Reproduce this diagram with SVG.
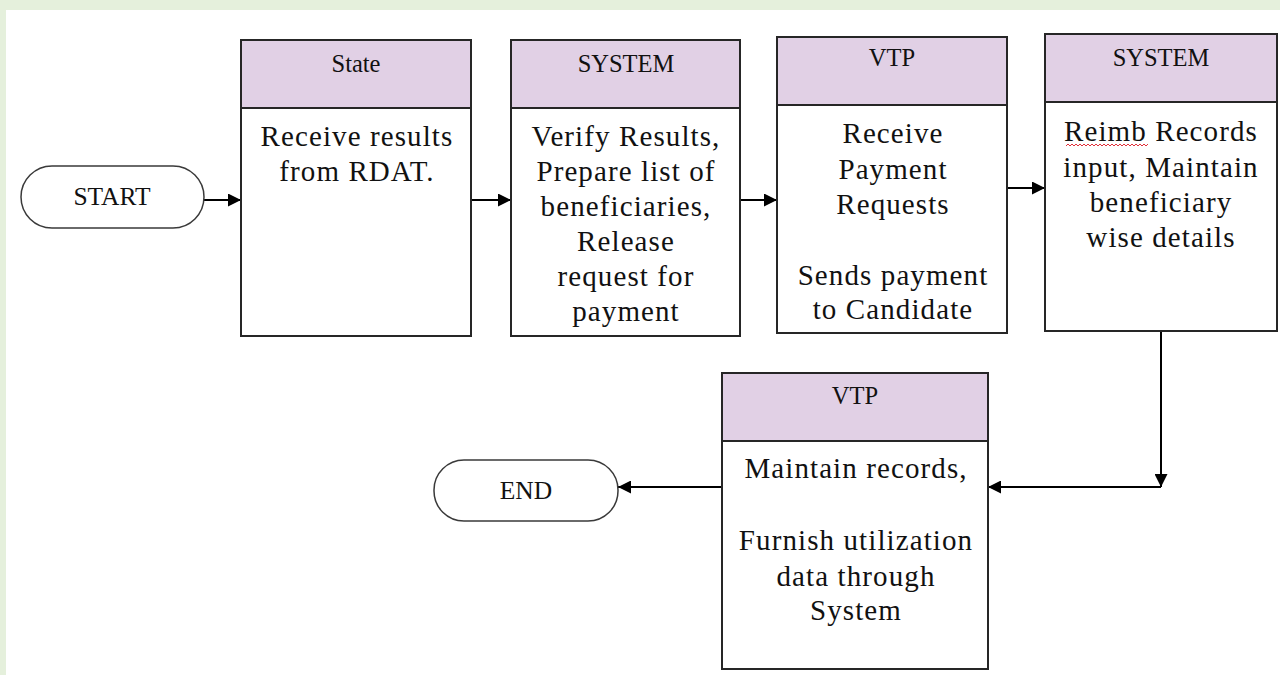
<svg xmlns="http://www.w3.org/2000/svg" width="1280" height="675" viewBox="0 0 1280 675">
<style>
.box{fill:#ffffff;stroke:#262626;stroke-width:2}
.hdr{fill:#e1d0e5;stroke:#262626;stroke-width:2}
.term{fill:#ffffff;stroke:#3a3a3a;stroke-width:1.5}
.ht{font-family:"Liberation Serif","Times New Roman",serif;font-size:24.5px;fill:#111;text-anchor:middle}
.bt{font-family:"Liberation Serif","Times New Roman",serif;font-size:29px;letter-spacing:1.1px;fill:#111;text-anchor:middle}
.tt{font-family:"Liberation Serif","Times New Roman",serif;font-size:25.5px;fill:#111;text-anchor:middle}
.conn{fill:none;stroke:#000;stroke-width:2}
</style>
<defs>
<marker id="arr" viewBox="0 0 12 12" refX="12" refY="6" markerWidth="13" markerHeight="13" markerUnits="userSpaceOnUse" orient="auto">
<path d="M0,0 L12,6 L0,12 Z" fill="#000"/>
</marker>
</defs>
<rect x="0" y="0" width="1280" height="675" fill="#e5f0dc"/>
<rect x="6" y="10" width="1274" height="665" fill="#ffffff"/>

<g id="connectors">
<path class="conn" d="M204,200 H241" marker-end="url(#arr)"/>
<path class="conn" d="M471,200 H511" marker-end="url(#arr)"/>
<path class="conn" d="M740,200 H777" marker-end="url(#arr)"/>
<path class="conn" d="M1007,188 H1045" marker-end="url(#arr)"/>
<path class="conn" d="M1161,331 V487" marker-end="url(#arr)"/>
<path class="conn" d="M1161,487 H988" marker-end="url(#arr)"/>
<path class="conn" d="M722,487 H618" marker-end="url(#arr)"/>
</g>

<g id="start">
<rect class="term" x="21" y="166" width="183" height="62" rx="31" ry="31"/>
<text class="tt" x="112" y="205">START</text>
</g>

<g id="end">
<rect class="term" x="434" y="460" width="184" height="61" rx="30" ry="30"/>
<text class="tt" x="526" y="499">END</text>
</g>

<g id="state">
<rect class="box" x="241" y="40" width="230" height="296"/>
<rect class="hdr" x="241" y="40" width="230" height="68"/>
<text class="ht" x="356" y="72">State</text>
<text class="bt" x="357" y="146">Receive results</text>
<text class="bt" x="357" y="181">from RDAT.</text>
</g>

<g id="system1">
<rect class="box" x="511" y="40" width="229" height="296"/>
<rect class="hdr" x="511" y="40" width="229" height="68"/>
<text class="ht" x="626" y="72">SYSTEM</text>
<text class="bt" x="626" y="146">Verify Results,</text>
<text class="bt" x="626" y="181">Prepare list of</text>
<text class="bt" x="626" y="216">beneficiaries,</text>
<text class="bt" x="626" y="251">Release</text>
<text class="bt" x="626" y="286">request for</text>
<text class="bt" x="626" y="321">payment</text>
</g>

<g id="vtp1">
<rect class="box" x="777" y="37" width="230" height="296"/>
<rect class="hdr" x="777" y="37" width="230" height="68"/>
<text class="ht" x="892" y="66">VTP</text>
<text class="bt" x="893" y="143">Receive</text>
<text class="bt" x="893" y="179">Payment</text>
<text class="bt" x="893" y="214">Requests</text>
<text class="bt" x="893" y="285">Sends payment</text>
<text class="bt" x="893" y="319">to Candidate</text>
</g>

<g id="system2">
<rect class="box" x="1045" y="34" width="232" height="297"/>
<rect class="hdr" x="1045" y="34" width="232" height="68"/>
<text class="ht" x="1161" y="66">SYSTEM</text>
<text class="bt" x="1161" y="141">Reimb Records</text>
<text class="bt" x="1161" y="177">input, Maintain</text>
<text class="bt" x="1161" y="212">beneficiary</text>
<text class="bt" x="1161" y="247">wise details</text>
<path d="M1066,146 l2,-2 l2,2 l2,-2 l2,2 l2,-2 l2,2 l2,-2 l2,2 l2,-2 l2,2 l2,-2 l2,2 l2,-2 l2,2 l2,-2 l2,2 l2,-2 l2,2 l2,-2 l2,2 l2,-2 l2,2 l2,-2 l2,2 l2,-2 l2,2 l2,-2 l2,2 l2,-2 l2,2 l2,-2 l2,2 l2,-2 l2,2 l2,-2 l2,2 l2,-2 l2,2 l2,-2 l2,2 l2,-2" fill="none" stroke="#e0303a" stroke-width="1"/>
</g>

<g id="vtp2">
<rect class="box" x="722" y="373" width="266" height="296"/>
<rect class="hdr" x="722" y="373" width="266" height="68"/>
<text class="ht" x="855" y="404">VTP</text>
<text class="bt" x="856" y="478">Maintain records,</text>
<text class="bt" x="856" y="550">Furnish utilization</text>
<text class="bt" x="856" y="586">data through</text>
<text class="bt" x="856" y="620">System</text>
</g>
</svg>
